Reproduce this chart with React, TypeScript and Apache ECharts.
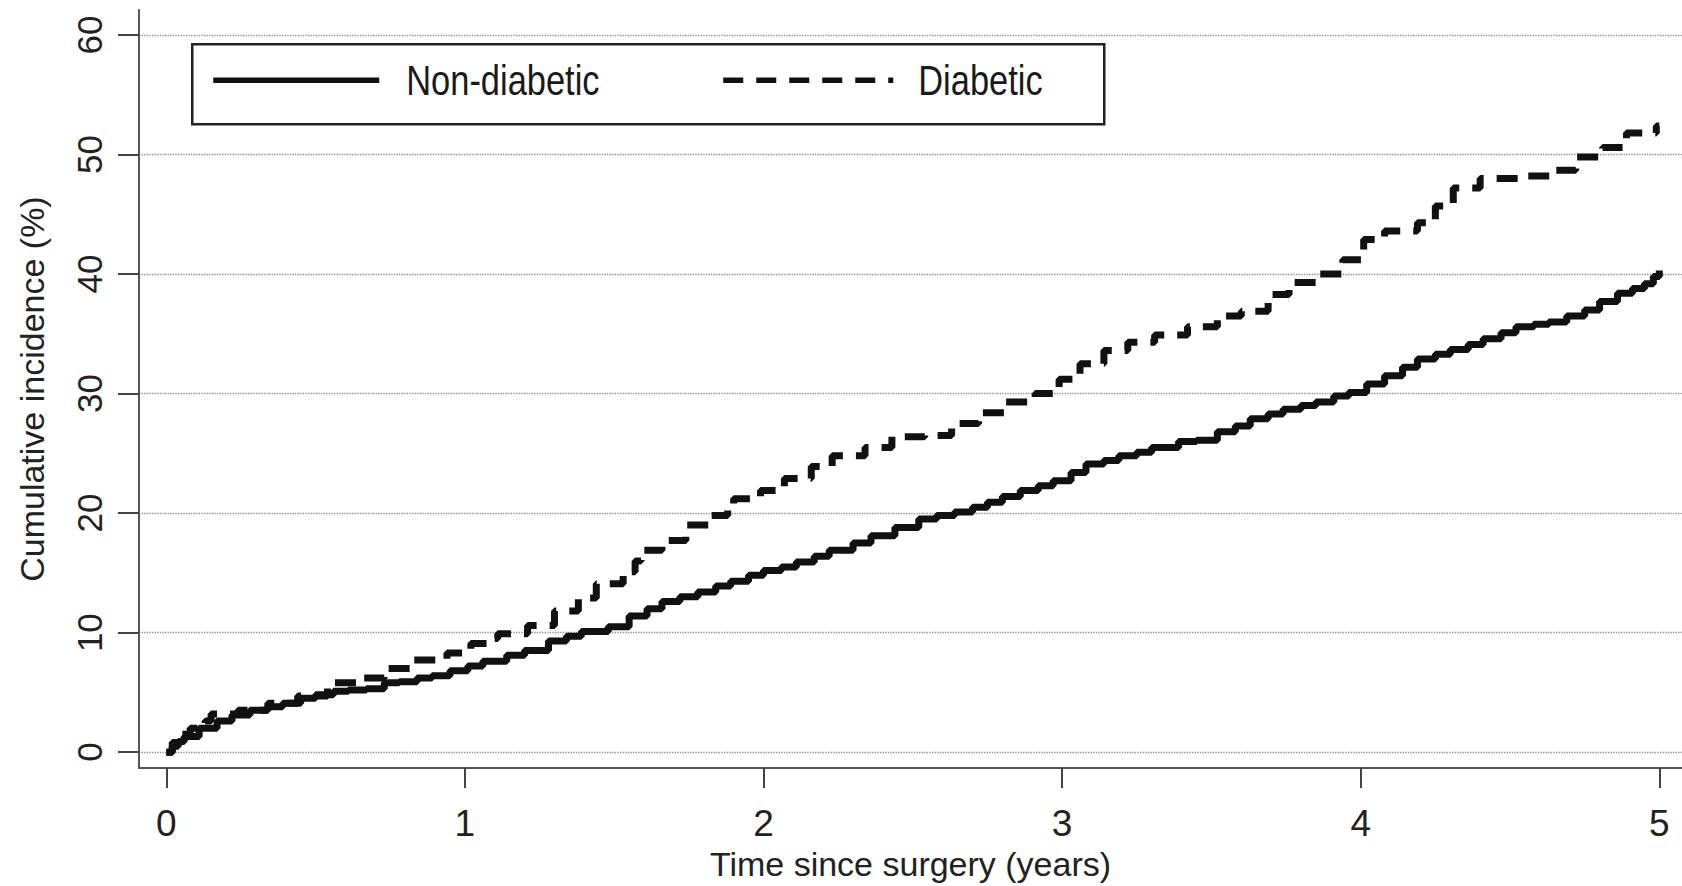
import React, { useEffect, useRef } from "react";
import * as echarts from "echarts";

const xTicks = [0, 1, 2, 3, 4, 5];
const yTicks = [0, 10, 20, 30, 40, 50, 60];

const seriesNames = ["Non-diabetic", "Diabetic"];

const nonDiabeticTime = [
  0, 0.02, 0.04, 0.06, 0.11, 0.17, 0.22, 0.28, 0.34, 0.39, 0.45, 0.5, 0.56, 0.61, 0.67,
  0.73, 0.78, 0.84, 0.89, 0.95, 1.01, 1.06, 1.14, 1.2, 1.28, 1.34, 1.39, 1.48, 1.55, 1.61,
  1.66, 1.72, 1.78, 1.84, 1.89, 1.95, 2.0, 2.06, 2.11, 2.17, 2.22, 2.3, 2.36, 2.44, 2.52,
  2.58, 2.64, 2.7, 2.75, 2.8, 2.86, 2.92, 2.97, 3.03, 3.08, 3.14, 3.19, 3.25, 3.3, 3.39,
  3.45, 3.52, 3.58, 3.63, 3.69, 3.74, 3.8, 3.85, 3.91, 3.96, 4.02, 4.08, 4.14, 4.19, 4.25,
  4.3, 4.36, 4.41, 4.47, 4.52, 4.58, 4.63, 4.69, 4.75, 4.8, 4.86, 4.91, 4.95, 4.98, 5.0,
];
const nonDiabeticValue = [
  0, 0.5, 0.9, 1.3, 2.0, 2.6, 3.1, 3.5, 3.8, 4.1, 4.5, 4.8, 5.1, 5.2, 5.3,
  5.8, 5.9, 6.2, 6.4, 6.8, 7.2, 7.6, 8.1, 8.5, 9.3, 9.7, 10.1, 10.5, 11.4, 12.0,
  12.6, 13.0, 13.4, 13.9, 14.3, 14.8, 15.2, 15.5, 15.9, 16.4, 16.9, 17.5, 18.1, 18.8, 19.5,
  19.8, 20.1, 20.5, 20.9, 21.4, 21.9, 22.3, 22.7, 23.4, 24.1, 24.4, 24.8, 25.1, 25.5, 26.0,
  26.1, 26.8, 27.3, 27.9, 28.3, 28.7, 29.0, 29.3, 29.8, 30.1, 30.8, 31.5, 32.2, 32.9, 33.3,
  33.7, 34.1, 34.6, 35.1, 35.6, 35.8, 36.0, 36.5, 37.0, 37.7, 38.4, 38.8, 39.2, 39.8, 40.3,
];

const diabeticTime = [
  0, 0.02, 0.04, 0.08, 0.13, 0.15, 0.24, 0.34, 0.44, 0.54, 0.64, 0.73, 0.82, 0.94, 1.02,
  1.08, 1.11, 1.21, 1.3, 1.38, 1.44, 1.53, 1.57, 1.59, 1.66, 1.74, 1.82, 1.88, 1.9, 1.99,
  2.07, 2.16, 2.23, 2.34, 2.43, 2.54, 2.63, 2.72, 2.81, 2.91, 2.99, 3.06, 3.14, 3.22, 3.31,
  3.42, 3.52, 3.6, 3.69, 3.76, 3.86, 3.94, 4.01, 4.08, 4.19, 4.25, 4.31, 4.4, 4.54, 4.64,
  4.72, 4.81, 4.89, 4.99, 5.0,
];
const diabeticValue = [
  0, 0.8, 1.5, 2.0, 2.6, 3.2, 3.5, 4.1, 4.7, 5.8, 6.2, 7.0, 7.7, 8.3, 9.1,
  9.5, 9.9, 10.6, 11.8, 12.9, 14.1, 15.1, 16.0, 16.9, 17.7, 19.0, 19.8, 20.5, 21.2, 21.9,
  22.9, 23.9, 24.8, 25.5, 26.4, 26.5, 27.5, 28.4, 29.3, 30.0, 31.2, 32.5, 33.6, 34.3, 34.9,
  35.6, 36.5, 36.9, 38.3, 39.3, 40.0, 41.2, 42.9, 43.6, 44.3, 45.7, 47.2, 48.0, 48.2, 48.7,
  49.8, 50.6, 51.8, 52.4, 52.4,
];

const FONT = "'Liberation Sans', Arial, Helvetica, sans-serif";
const DASH = [21, 13];
const INK = "#111";

const zip = (t: number[], v: number[]) => t.map((x, i) => [x, v[i]]);

export default function App() {
  const ref = useRef<HTMLDivElement>(null);
  useEffect(() => {
    const chart = echarts.init(ref.current!, null, { renderer: "svg" });
    chart.setOption({
      animation: false,
      backgroundColor: "#ffffff",
      textStyle: { fontFamily: FONT },
      grid: { left: 139, right: 0, top: 10, bottom: 116, containLabel: false },
      graphic: [
        {
          type: "group",
          left: 191,
          top: 43,
          z: 100,
          children: [
            {
              type: "rect",
              shape: { x: 0, y: 0, width: 912, height: 80 },
              style: { fill: "#fff", stroke: "#222", lineWidth: 2.5 },
            },
            {
              type: "line",
              shape: { x1: 21, y1: 36, x2: 187, y2: 36 },
              style: { stroke: INK, lineWidth: 5.5 },
            },
            {
              type: "text",
              x: 214,
              y: 36,
              scaleX: 0.82,
              style: {
                text: seriesNames[0],
                fontFamily: FONT,
                fontSize: 42,
                fill: "#1a1a1a",
                textAlign: "left",
                textVerticalAlign: "middle",
              },
            },
            {
              type: "line",
              shape: { x1: 531, y1: 36, x2: 701, y2: 36 },
              style: { stroke: INK, lineWidth: 5.5, lineDash: [20, 13] },
            },
            {
              type: "text",
              x: 726,
              y: 36,
              scaleX: 0.82,
              style: {
                text: seriesNames[1],
                fontFamily: FONT,
                fontSize: 42,
                fill: "#1a1a1a",
                textAlign: "left",
                textVerticalAlign: "middle",
              },
            },
          ],
        },
      ],
      xAxis: {
        type: "value",
        min: -0.0914,
        max: 5.076,
        name: "Time since surgery (years)",
        nameLocation: "middle",
        nameGap: 71,
        nameTextStyle: { fontSize: 34, color: "#222", fontFamily: FONT },
        axisLine: { show: true, onZero: false, lineStyle: { color: "#555", width: 2 } },
        axisTick: {
          show: true,
          length: 20,
          customValues: xTicks,
          lineStyle: { color: "#444", width: 2 },
        },
        axisLabel: {
          customValues: xTicks,
          fontSize: 37,
          color: "#222",
          margin: 37,
          fontFamily: FONT,
        },
        splitLine: { show: false },
      },
      yAxis: {
        type: "value",
        min: -1.336,
        max: 62.1,
        name: "Cumulative incidence (%)",
        nameLocation: "middle",
        nameRotate: 90,
        nameGap: 90,
        nameTextStyle: { fontSize: 34, color: "#222", fontFamily: FONT },
        axisLine: { show: true, onZero: false, lineStyle: { color: "#555", width: 2 } },
        axisTick: {
          show: true,
          length: 21,
          customValues: yTicks,
          lineStyle: { color: "#444", width: 2 },
        },
        axisLabel: {
          customValues: yTicks,
          rotate: 90,
          fontSize: 35,
          color: "#222",
          margin: 32,
          fontFamily: FONT,
        },
        splitLine: {
          show: true,
          lineStyle: { type: "dotted", color: "#8a8a8a", width: 1.3 },
        },
      },
      series: [
        {
          name: seriesNames[0],
          type: "line",
          step: "end",
          symbol: "none",
          data: zip(nonDiabeticTime, nonDiabeticValue),
          itemStyle: { color: INK },
          lineStyle: { color: INK, width: 7 },
        },
        {
          name: seriesNames[1],
          type: "line",
          step: "end",
          symbol: "none",
          data: zip(diabeticTime, diabeticValue),
          itemStyle: { color: INK },
          lineStyle: { color: INK, width: 7, type: DASH },
        },
      ],
    });
    return () => chart.dispose();
  }, []);
  return (
    <div
      ref={ref}
      style={{ position: "absolute", left: 0, top: 0, width: 1682, height: 886, background: "#fff" }}
    />
  );
}
